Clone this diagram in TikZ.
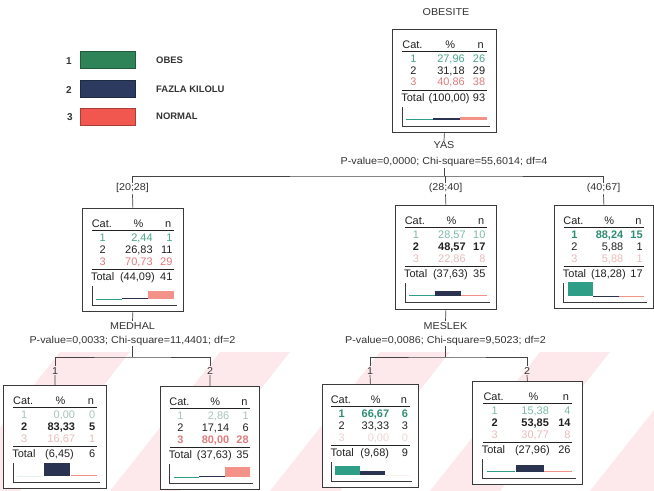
\documentclass[tikz,border=0pt]{standalone}
\usepackage{fontspec}
\setmainfont{Liberation Sans}
\newfontfamily\lblfont{Liberation Sans}[FakeStretch=1.08]
\usetikzlibrary{calc}
\definecolor{dark}{HTML}{222222}
\definecolor{boxc}{HTML}{3A3A3A}
\definecolor{connc}{HTML}{444444}
\definecolor{lblc}{HTML}{333333}
\definecolor{tealt}{HTML}{4AA58A}
\definecolor{tealt2}{HTML}{7CBBA8}
\definecolor{tealb}{HTML}{2E8E72}
\definecolor{greyp}{HTML}{A9C3BB}
\definecolor{salt}{HTML}{E07C7C}
\definecolor{salp}{HTML}{EBBBBB}
\definecolor{salvp}{HTML}{F0D4D4}
\definecolor{barteal}{HTML}{2F9E86}
\definecolor{barnavy}{HTML}{2A3350}
\definecolor{barsal}{HTML}{F4928A}
\definecolor{leg1}{HTML}{2F8457}
\definecolor{leg2}{HTML}{2B3A5E}
\definecolor{leg3}{HTML}{F2574F}
\definecolor{wm}{HTML}{FDE9EC}
\tikzset{
  treebox/.style={draw=boxc, line width=0.8pt, fill=white, inner sep=0pt},
  cell/.style={inner sep=0pt, font=\fontsize{11}{12}\selectfont, text=dark},
  bold/.style={font=\fontsize{11}{12}\selectfont\bfseries},
  lbl/.style={inner sep=1pt, font=\lblfont\fontsize{10}{12}\selectfont, text=lblc},
  conn/.style={draw=connc, line width=0.7pt},
  rule/.style={draw=dark, line width=0.7pt},
  axisl/.style={draw=boxc, line width=0.6pt},
  legbox/.style={minimum width=55bp, minimum height=17bp, inner sep=0pt},
  legtxt/.style={inner sep=0pt, font=\fontsize{9.5}{11}\selectfont\bfseries, text=lblc},
}
% #1 name, #2 x, #3 y, #4 w, #5 h, #6 rows, #7 total pct, #8 total n, #9 bars
\newcommand\tnode[9]{%
  \node[treebox, minimum width=#4bp, minimum height=#5bp, anchor=north west] (#1) at (#2,#3) {};
  \begin{scope}[shift={(#2,#3)}, xscale=#4/102]
    \node[cell, anchor=base] at (20,19.5) {Cat.};
    \node[cell, anchor=base] at (57,19.5) {\%};
    \node[cell, anchor=base] at (87,19.5) {n};
    \draw[rule] (10,22.5) -- (93,22.5);
    #6
    \draw[rule] (10,61) -- (93,61);
    \node[cell, anchor=base west] at (9,72.5) {Total};
    \node[cell, anchor=base] at (56,72.5) {(#7)};
    \node[cell, anchor=base east] at (91.5,72.5) {#8};
    \draw[axisl] (10,78) -- (10,97) -- (96,97);
    #9
  \end{scope}}
% row: #1 baseline, #2 style, #3 cat, #4 pct, #5 n
\newcommand\trow[5]{%
  \node[cell, anchor=base, #2] at (21,#1) {#3};
  \node[cell, anchor=base east, #2] at (71.5,#1) {#4};
  \node[cell, anchor=base east, #2] at (91.5,#1) {#5};}
\newcommand\rows[9]{%
  \trow{33.5}{#1}{1}{#2}{#3}\trow{45.5}{#4}{2}{#5}{#6}\trow{57}{#7}{3}{#8}{#9}}
\newcommand\tbars[3]{%
  \fill[barteal] (14,91) rectangle (40,{91-#1});
  \fill[barnavy] (40.5,91) rectangle (66.5,{91-#2});
  \fill[barsal] (67,91) rectangle (93,{91-#3});}
\begin{document}
\begin{tikzpicture}[x=1bp,y=-1bp]
\useasboundingbox (0,0) rectangle (654,491);
\fill[white] (0,0) rectangle (654,491);
% watermark stripes
\begin{scope}
  \clip (0,352) rectangle (654,491);
  \foreach \s in {-100,60,220,380,540,700}
    \fill[wm] (\s,352) -- ({\s+70},352) -- ({\s-40},491) -- ({\s-110},491) -- cycle;
\end{scope}
% legend
\node[legtxt, font=\fontsize{10}{12}\selectfont\bfseries] (k1) at (69,61) {1};
\node[legtxt, font=\fontsize{10}{12}\selectfont\bfseries] (k2) at (69,90) {2};
\node[legtxt, font=\fontsize{10}{12}\selectfont\bfseries] (k3) at (70,117) {3};
\node[legbox, fill=leg1, draw=leg1!70!black] (b1) at (107.5,59.5) {};
\node[legbox, fill=leg2, draw=leg2!70!black] (b2) at (107.5,88.5) {};
\node[legbox, fill=leg3, draw=leg3!70!black] (b3) at (107.5,117) {};
\node[legtxt, anchor=west] (t1) at (156,60) {OBES};
\node[legtxt, anchor=west] (t2) at (156,89) {FAZLA KILOLU};
\node[legtxt, anchor=west] (t3) at (156,116) {NORMAL};
% root
\node[lbl, anchor=base] (title) at (446,16) {OBESITE};
\tnode{root}{392}{29}{104}{103}
  {\rows{text=tealt}{27,96}{26}{}{31,18}{29}{text=salt}{40,86}{38}}
  {100,00}{93}{\tbars{1.3}{2}{3.3}}
\node[lbl, anchor=base] (yas) at (444,149) {YAS};
\node[lbl, anchor=base] (yasp) at (444,165) {P-value=0,0000; Chi-square=55,6014; df=4};
\coordinate (h1) at (444,176);
% level 1
\node[lbl, anchor=base] (la) at (132.5,191) {[20;28]};
\node[lbl, anchor=base] (lb) at (445.5,191) {(28;40]};
\node[lbl, anchor=base] (lc) at (603.5,191) {(40;67]};
\tnode{na}{82}{208}{101}{103}
  {\rows{text=tealt}{2,44}{1}{}{26,83}{11}{text=salt}{70,73}{29}}
  {44,09}{41}{\tbars{0.2}{1.5}{8}}
\tnode{nb}{395}{205}{101}{104}
  {\rows{text=tealt2}{28,57}{10}{bold}{48,57}{17}{text=salp}{22,86}{8}}
  {37,63}{35}{\tbars{1.3}{5}{1}}
\tnode{nc}{554}{205}{99}{103}
  {\rows{bold,text=tealb}{88,24}{15}{}{5,88}{1}{text=salp}{5,88}{1}}
  {18,28}{17}{\tbars{14}{0.3}{0.3}}
% level 2 labels
\node[lbl, anchor=base] (med) at (132.5,329) {MEDHAL};
\node[lbl, anchor=base] (medp) at (132.5,343) {P-value=0,0033; Chi-square=11,4401; df=2};
\node[lbl, anchor=base] (mes) at (445.5,329) {MESLEK};
\node[lbl, anchor=base] (mesp) at (445.5,343) {P-value=0,0086; Chi-square=9,5023; df=2};
\coordinate (h2) at (132.5,357);
\coordinate (h3) at (445.5,357);
\node[lbl, anchor=base] (l1) at (55,374) {1};
\node[lbl, anchor=base] (l2) at (210,374) {2};
\node[lbl, anchor=base] (l3) at (370,374) {1};
\node[lbl, anchor=base] (l4) at (527,374) {2};
% leaves
\tnode{ma}{3}{385}{103}{103}
  {\rows{text=greyp}{0,00}{0}{bold}{83,33}{5}{text=salp}{16,67}{1}}
  {6,45}{6}{\tbars{0}{13}{0.6}}
\tnode{mb}{160}{386}{99}{103}
  {\rows{text=greyp}{2,86}{1}{}{17,14}{6}{bold,text=salt}{80,00}{28}}
  {37,63}{35}{\tbars{0.2}{0.8}{10}}
\tnode{mc}{322}{384}{96}{103}
  {\rows{bold,text=tealb}{66,67}{6}{}{33,33}{3}{text=salvp}{0,00}{0}}
  {9,68}{9}{\tbars{9}{4}{0}}
\tnode{md}{472}{381}{110}{103}
  {\rows{text=tealt2}{15,38}{4}{bold}{53,85}{14}{text=salp}{30,77}{8}}
  {27,96}{26}{\tbars{0.8}{7}{1.5}}
% connectors
\draw[conn] (root.south) -- (yas.north);
\draw[conn] (yasp.south) -- (h1);
\draw[conn] (la.north) |- (h1) -| (lc.north);
\draw[conn] (lb.north) -- (lb.north |- h1);
\draw[conn] (la.south) -- (na.north);
\draw[conn] (lb.south) -- (nb.north);
\draw[conn] (lc.south) -- (nc.north);
\draw[conn] (na.south) -- (med.north);
\draw[conn] (nb.south) -- (mes.north);
\draw[conn] (medp.south) -- (h2);
\draw[conn] (mesp.south) -- (h3);
\draw[conn] (l1.north) |- (h2) -| (l2.north);
\draw[conn] (l3.north) |- (h3) -| (l4.north);
\draw[conn] (l1.south) -- (ma.north);
\draw[conn] (l2.south) -- (mb.north);
\draw[conn] (l3.south) -- (mc.north);
\draw[conn] (l4.south) -- (md.north);
\end{tikzpicture}
\end{document}
